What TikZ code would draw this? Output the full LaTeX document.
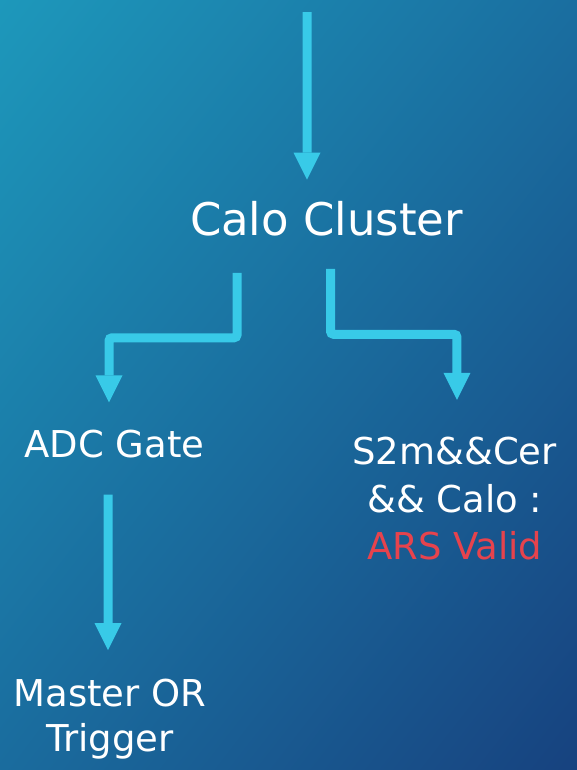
\documentclass[tikz,border=0pt]{standalone}
\usepackage{fontspec}
\setmainfont{DejaVu Sans}
\usepackage{tikz}
\usetikzlibrary{positioning,arrows.meta,shadings}

\definecolor{bgtl}{RGB}{29,152,187}
\definecolor{bgtr}{RGB}{26,110,160}
\definecolor{bgbl}{RGB}{26,108,158}
\definecolor{bgbr}{RGB}{23,66,127}
\definecolor{flowcol}{RGB}{56,202,232}
\definecolor{validred}{RGB}{230,67,77}

\tikzset{
  lbl/.style={text=white, inner sep=0pt, align=center, font=\fontsize{52.6}{68}\selectfont},
  flow/.style={draw=flowcol, line width=0.45cm, rounded corners=0.15cm,
    -{Triangle[length=1.35cm,width=1.35cm,line width=0pt]}}
}

\begin{document}
\begin{tikzpicture}[x=0.05cm,y=-0.05cm]
	\shade[upper left=bgtl, upper right=bgtr, lower left=bgbl, lower right=bgbr] (0,0) rectangle (577,770);
	\useasboundingbox (0,0) rectangle (577,770);

	% multi-line nodes sit on the baseline of their last line
	\node[lbl, font=\fontsize{64}{76}\selectfont, anchor=base] (calo) at (326.5,235) {Calo Cluster};
	\node[lbl] (adc) [below left = 11.15cm and 10.6cm of calo.base, anchor=base] {ADC Gate};
	\node[lbl] (coinc) [below right = 16.25cm and 6.41cm of calo.base, anchor=base] {S2m\&\&Cer\\\&\& Calo :\\\textcolor{validred}{ARS Valid}};
	\node[lbl, font=\fontsize{52.6}{64}\selectfont] (master) [below right = 14.685cm and -0.225cm of adc.base, anchor=base] {Master OR\\Trigger};

	\coordinate (src) at (307,12);

	\draw[flow] (src) -- ([xshift=-0.975cm,yshift=1.05cm]calo.north);
	\draw[flow] ([xshift=-4.475cm,yshift=-1.85cm]calo.south) -- ++(0,65) -| ([xshift=-0.275cm,yshift=1.4cm]adc.north);
	\draw[flow] ([xshift=0.2cm,yshift=-1.65cm]calo.south) -- ++(0,65.5) -| ([xshift=0.115cm,yshift=1.85cm]coinc.north);
	\draw[flow] ([xshift=-0.325cm,yshift=-1.8cm]adc.south) -- ([xshift=-0.1cm,yshift=1.45cm]master.north);
\end{tikzpicture}
\end{document}
